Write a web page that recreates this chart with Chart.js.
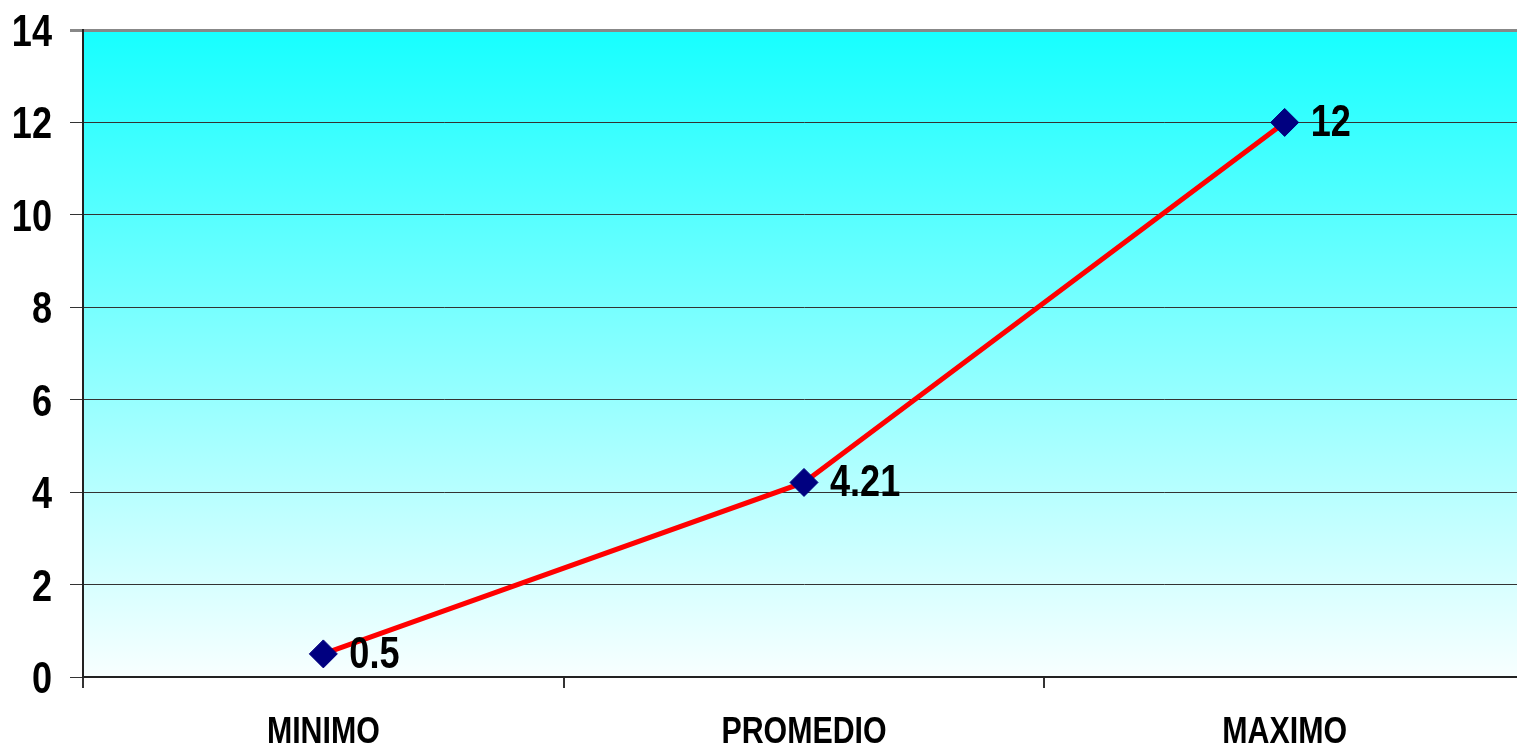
<!DOCTYPE html>
<html>
<head>
<meta charset="utf-8">
<script src="https://cdn.jsdelivr.net/npm/chart.js@4/dist/chart.umd.min.js"></script>
<style>
    html, body { margin: 0; padding: 0; background: #fff; overflow: hidden; }
    #wrap { width: 1525px; height: 749px; }
</style>
</head>
<body>
<div id="wrap"><canvas id="lineChart" width="1525" height="749"></canvas></div>
<script>
// data
const categories = ['MINIMO', 'PROMEDIO', 'MAXIMO'];
const values = [0.5, 4.21, 12];
const yTicks = [0, 2, 4, 6, 8, 10, 12, 14];

const FONT = '"Liberation Sans", Arial, sans-serif';
const SQUEEZE = 0.82; // the original text is a condensed bold face

// draw condensed text: x anchor + alignment handled manually
function drawText(ctx, text, x, y, align, size) {
    ctx.save();
    ctx.font = 'bold ' + size + 'px ' + FONT;
    ctx.fillStyle = '#000';
    ctx.textAlign = align;
    ctx.textBaseline = 'alphabetic';
    ctx.translate(x, y);
    ctx.scale(SQUEEZE, 1);
    ctx.fillText(text, 0, 0);
    ctx.restore();
}

// gradient fill behind the plot area
const plotBackground = {
    id: 'plotBackground',
    beforeDraw(chart) {
        const { ctx, chartArea: a } = chart;
        const g = ctx.createLinearGradient(0, a.top, 0, a.bottom);
        g.addColorStop(0, '#16ffff');
        g.addColorStop(1, '#f8ffff');
        ctx.save();
        ctx.fillStyle = g;
        ctx.fillRect(a.left, a.top, a.right - a.left, a.bottom - a.top);
        ctx.restore();
    }
};

// axis labels + value labels
const labelsPlugin = {
    id: 'labelsPlugin',
    afterDraw(chart) {
        const ctx = chart.ctx;
        const xs = chart.scales.x, ys = chart.scales.y;

        ys.ticks.forEach(t => {
            drawText(ctx, String(t.value), ys.right - 31, ys.getPixelForValue(t.value) + 16, 'right', 44);
        });
        categories.forEach((c, i) => {
            drawText(ctx, c, xs.getPixelForValue(i), 743, 'center', 37);
        });

        const meta = chart.getDatasetMeta(0);
        meta.data.forEach((pt, i) => {
            drawText(ctx, String(values[i]), pt.x + 26, pt.y + 14, 'left', 44);
        });
    }
};

const noPadding = (s) => {
    s.paddingLeft = 0; s.paddingRight = 0;
    s.paddingTop = 0; s.paddingBottom = 0;
};

new Chart(document.getElementById('lineChart'), {
    type: 'line',
    data: {
        labels: categories,
        datasets: [{
            data: values,
            borderColor: '#ff0000',
            borderWidth: 5,
            pointStyle: 'rectRot',
            pointRadius: 14,
            pointBackgroundColor: '#000080',
            pointBorderColor: '#000080',
            pointBorderWidth: 1,
            tension: 0
        }]
    },
    options: {
        responsive: false,
        devicePixelRatio: 1,
        animation: false,
        layout: { autoPadding: false, padding: { top: 30, right: 0, bottom: 0, left: 0 } },
        plugins: {
            legend: { display: false },
            tooltip: { enabled: false }
        },
        scales: {
            x: {
                offset: true,
                afterFit: (s) => { s.height = 72; noPadding(s); },
                grid: {
                    offset: true,
                    drawOnChartArea: false,
                    drawTicks: true,
                    tickLength: 11,
                    color: '#333',
                    lineWidth: 2
                },
                border: { display: true, color: '#222', width: 2 },
                ticks: { display: false }
            },
            y: {
                min: 0,
                max: 14,
                afterFit: (s) => { s.width = 83; noPadding(s); },
                afterBuildTicks: (s) => { s.ticks = yTicks.map(v => ({ value: v })); },
                grid: {
                    color: (c) => c.tick && c.tick.value === 14 ? '#888' : '#333',
                    lineWidth: (c) => c.tick && c.tick.value === 14 ? 3 : 1,
                    tickLength: 13
                },
                border: { display: true, color: '#222', width: 2 },
                ticks: { display: false }
            }
        }
    },
    plugins: [plotBackground, labelsPlugin]
});
</script>
</body>
</html>
